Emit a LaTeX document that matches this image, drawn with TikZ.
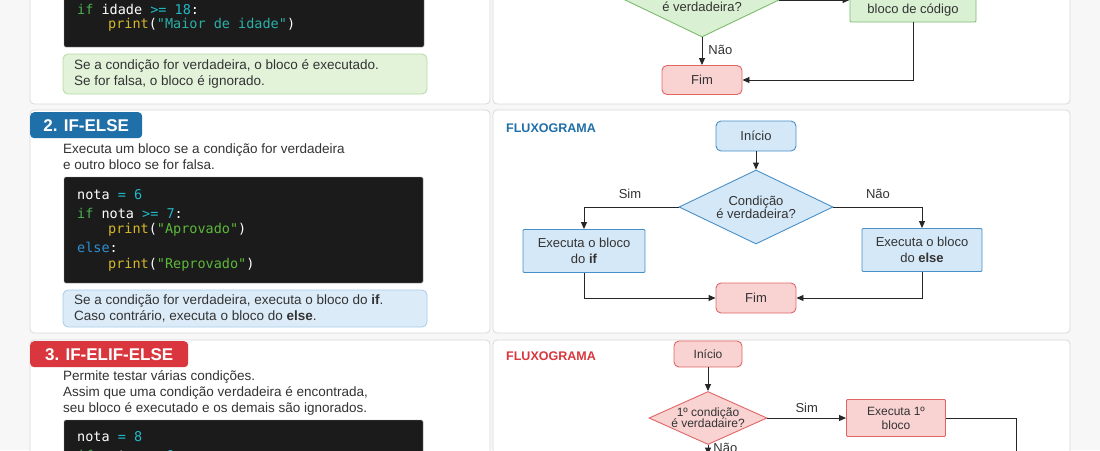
\documentclass[tikz,border=0pt]{standalone}
\usepackage{fontspec}
\setmainfont{Liberation Sans}
\setmonofont{DejaVu Sans Mono}
\usetikzlibrary{shapes.geometric,arrows.meta}
\definecolor{bluedark}{HTML}{1F6FA8}
\definecolor{reddark}{HTML}{D9363E}
\definecolor{gfill}{HTML}{E2F3DA}\definecolor{gline}{HTML}{B3DBA3}
\definecolor{bfill}{HTML}{DCEBF8}\definecolor{bline}{HTML}{A8CCEA}
\definecolor{rfill}{HTML}{F9D2D2}\definecolor{rline}{HTML}{E06666}
\definecolor{bbox}{HTML}{D5E8F7}\definecolor{bbline}{HTML}{4A90C8}
\definecolor{gbox}{HTML}{D9F0D3}\definecolor{gbline}{HTML}{7DBB6C}
\definecolor{codebg}{HTML}{1B1B1B}
\definecolor{ckw}{HTML}{4CAF50}\definecolor{cnum}{HTML}{22B8C8}
\definecolor{cfn}{HTML}{D4B82A}\definecolor{cstr}{HTML}{5CB83A}
\definecolor{cstr2}{HTML}{2BB0A8}\definecolor{celse}{HTML}{2D8FD0}
\definecolor{txt}{HTML}{333333}
\begin{document}
\begin{tikzpicture}[x=1pt,y=-1pt,
  panel/.style={draw=black!15,fill=white,rounded corners=4pt,line width=0.8pt},
  code/.style={fill=codebg,draw=black!40,rounded corners=1.5pt},
  note/.style={rounded corners=5pt,line width=0.8pt},
  badge/.style={rounded corners=4pt,text=white,font=\fontsize{17}{20}\selectfont\bfseries,inner sep=0pt},
  desc/.style={anchor=west,text=txt,font=\fontsize{13.5}{16}\selectfont,align=left,inner sep=0pt},
  ctext/.style={anchor=west,text=white,font=\ttfamily\fontsize{13.5}{17.5}\selectfont,inner sep=0pt},
  box/.style={rectangle,rounded corners=1pt,line width=0.9pt,font=\fontsize{13}{16}\selectfont,align=center,text=txt,inner sep=0pt},
  term/.style={box,rounded corners=5pt},
  dia/.style={diamond,aspect=2.1,line width=0.9pt,inner sep=0pt,font=\fontsize{13}{15}\selectfont,align=center,text=txt},
  arr/.style={-{Triangle[length=7pt,width=6pt]},line width=0.9pt,black!85},
  ln/.style={line width=0.9pt,black!85},
  lab/.style={font=\fontsize{13}{14}\selectfont,text=txt,inner sep=0pt},
  flux/.style={anchor=west,font=\fontsize{12.5}{14}\selectfont\bfseries,inner sep=0pt}]
\useasboundingbox (0,0) rectangle (1100,450);
\fill[black!3] (0,0) rectangle (1100,450);
\clip (0,0) rectangle (1100,450);
% ---------- panel 1 ----------
\draw[panel] (30,-20) rectangle (490,104);
\draw[panel] (493,-20) rectangle (1070,104);
\draw[code] (64,-20) rectangle (424,47);
\node[ctext] (c1a) at (77,9) {{\color{ckw}if} idade {\color{cnum}>=} {\color{cnum}18}:};
\node[ctext] (c1b) at (108,25) {{\color{cfn}print}({\color{cstr2}"Maior de idade"})};
\draw[note,fill=gfill,draw=gline] (63,54) rectangle (427,94);
\node[desc] (n1) at (74,74) {Se a condição for verdadeira, o bloco é executado.\\Se for falsa, o bloco é ignorado.};
\node[dia,fill=gbox,draw=gbline,minimum width=154,minimum height=74] (d1) at (702,0) {\phantom{Condição}\\[-2pt]é verdadeira?};
\node[box,fill=gbox,draw=gbline,minimum width=126,minimum height=40] (b1) at (913,2) {\phantom{Executa o}\\bloco de código};
\node[term,fill=rfill,draw=rline,minimum width=80,minimum height=29] (f1) at (702,80) {Fim};
\draw[arr] (d1.east) -- (d1.east -| b1.west);
\draw[arr] (d1.south) -- (f1.north) node[lab,pos=0.45,right=6pt] {Não};
\draw[arr] (b1.south) |- (f1.east);
% ---------- panel 2 ----------
\draw[panel] (30,110) rectangle (490,333);
\draw[panel] (493,110) rectangle (1070,333);
\node[badge,fill=bluedark,minimum width=112,minimum height=26,anchor=north west] (t2) at (30,112) {2. IF-ELSE};
\node[desc] (x2) at (63,157) {Executa um bloco se a condição for verdadeira\\e outro bloco se for falsa.};
\draw[code] (64,177) rectangle (423,283);
\node[ctext] (c2a) at (77,195) {nota {\color{cnum}=} {\color{cnum}6}};
\node[ctext] (c2b) at (77,213) {{\color{ckw}if} nota {\color{cnum}>=} {\color{cnum}7}:};
\node[ctext] (c2c) at (108,230) {{\color{cfn}print}({\color{cstr}"Aprovado"})};
\node[ctext] (c2d) at (77,247) {{\color{celse}else}:};
\node[ctext] (c2e) at (108,265) {{\color{cfn}print}({\color{cstr}"Reprovado"})};
\draw[note,fill=bfill,draw=bline] (63,290) rectangle (427,327);
\node[desc] (n2) at (74,308) {Se a condição for verdadeira, executa o bloco do \textbf{if}.\\Caso contrário, executa o bloco do \textbf{else}.};
\node[flux,text=bluedark] (fx2) at (506,128) {FLUXOGRAMA};
\node[term,fill=bbox,draw=bbline,minimum width=80,minimum height=30] (i2) at (756,136) {Início};
\node[dia,fill=bbox,draw=bbline,minimum width=154,minimum height=74] (d2) at (756,207) {Condição\\[-2pt]é verdadeira?};
\node[box,fill=bbox,draw=bbline,minimum width=122,minimum height=43] (bi) at (584,251) {Executa o bloco\\do \textbf{if}};
\node[box,fill=bbox,draw=bbline,minimum width=120,minimum height=43] (be) at (922,250) {Executa o bloco\\do \textbf{else}};
\node[term,fill=rfill,draw=rline,minimum width=80,minimum height=30] (f2) at (756,298) {Fim};
\node[lab] (s2) at (630,194) {Sim};
\node[lab] (no2) at (878,194) {Não};
\draw[arr] (i2) -- (d2.north);
\draw[arr] (d2.west) -| (bi.north);
\draw[arr] (d2.east) -| (be.north);
\draw[arr] (bi.south) |- (f2.west);
\draw[arr] (be.south) |- (f2.east);
% ---------- panel 3 ----------
\draw[panel] (30,340) rectangle (490,470);
\draw[panel] (493,340) rectangle (1070,470);
\node[badge,fill=reddark,minimum width=158,minimum height=26,anchor=north west] (t3) at (30,341) {3. IF-ELIF-ELSE};
\node[desc] (x3) at (63,393) {Permite testar várias condições.\\Assim que uma condição verdadeira é encontrada,\\seu bloco é executado e os demais são ignorados.};
\draw[code] (64,420) rectangle (423,470);
\node[ctext] (c3a) at (77,437) {nota {\color{cnum}=} {\color{cnum}8}};
\node[ctext] (c3b) at (77,455) {{\color{ckw}if} nota {\color{cnum}>=} {\color{cnum}9}:};
\node[flux,text=reddark] (fx3) at (506,356) {FLUXOGRAMA};
\node[term,fill=rfill,draw=rline,minimum width=68,minimum height=26] (i3) at (708,354) {\fontsize{12}{13}\selectfont Início};
\node[dia,aspect=2.25,fill=rfill,draw=rline,minimum width=118,minimum height=53,font=\fontsize{12}{13}\selectfont] (d3) at (708,418) {1º condição\\[-2pt]é verdadaire?};
\node[box,fill=rfill,draw=rline,minimum width=99,minimum height=37,font=\fontsize{12}{14}\selectfont] (b3) at (896,418) {Executa 1º\\bloco};
\coordinate (e3) at (1016,470);
\node[term,fill=rfill,draw=rline,minimum width=20,minimum height=10] (nx3) at (708,460) {};
\draw[arr] (i3) -- (d3.north);
\draw[arr] (d3.east) -- (b3.west) node[lab,pos=0.5,above=5pt] {Sim};
\draw[ln] (b3.east) -| (e3);
\draw[arr] (d3.south) -- (nx3.north) node[lab,pos=0.3,right=5pt] {Não};
\end{tikzpicture}
\end{document}
